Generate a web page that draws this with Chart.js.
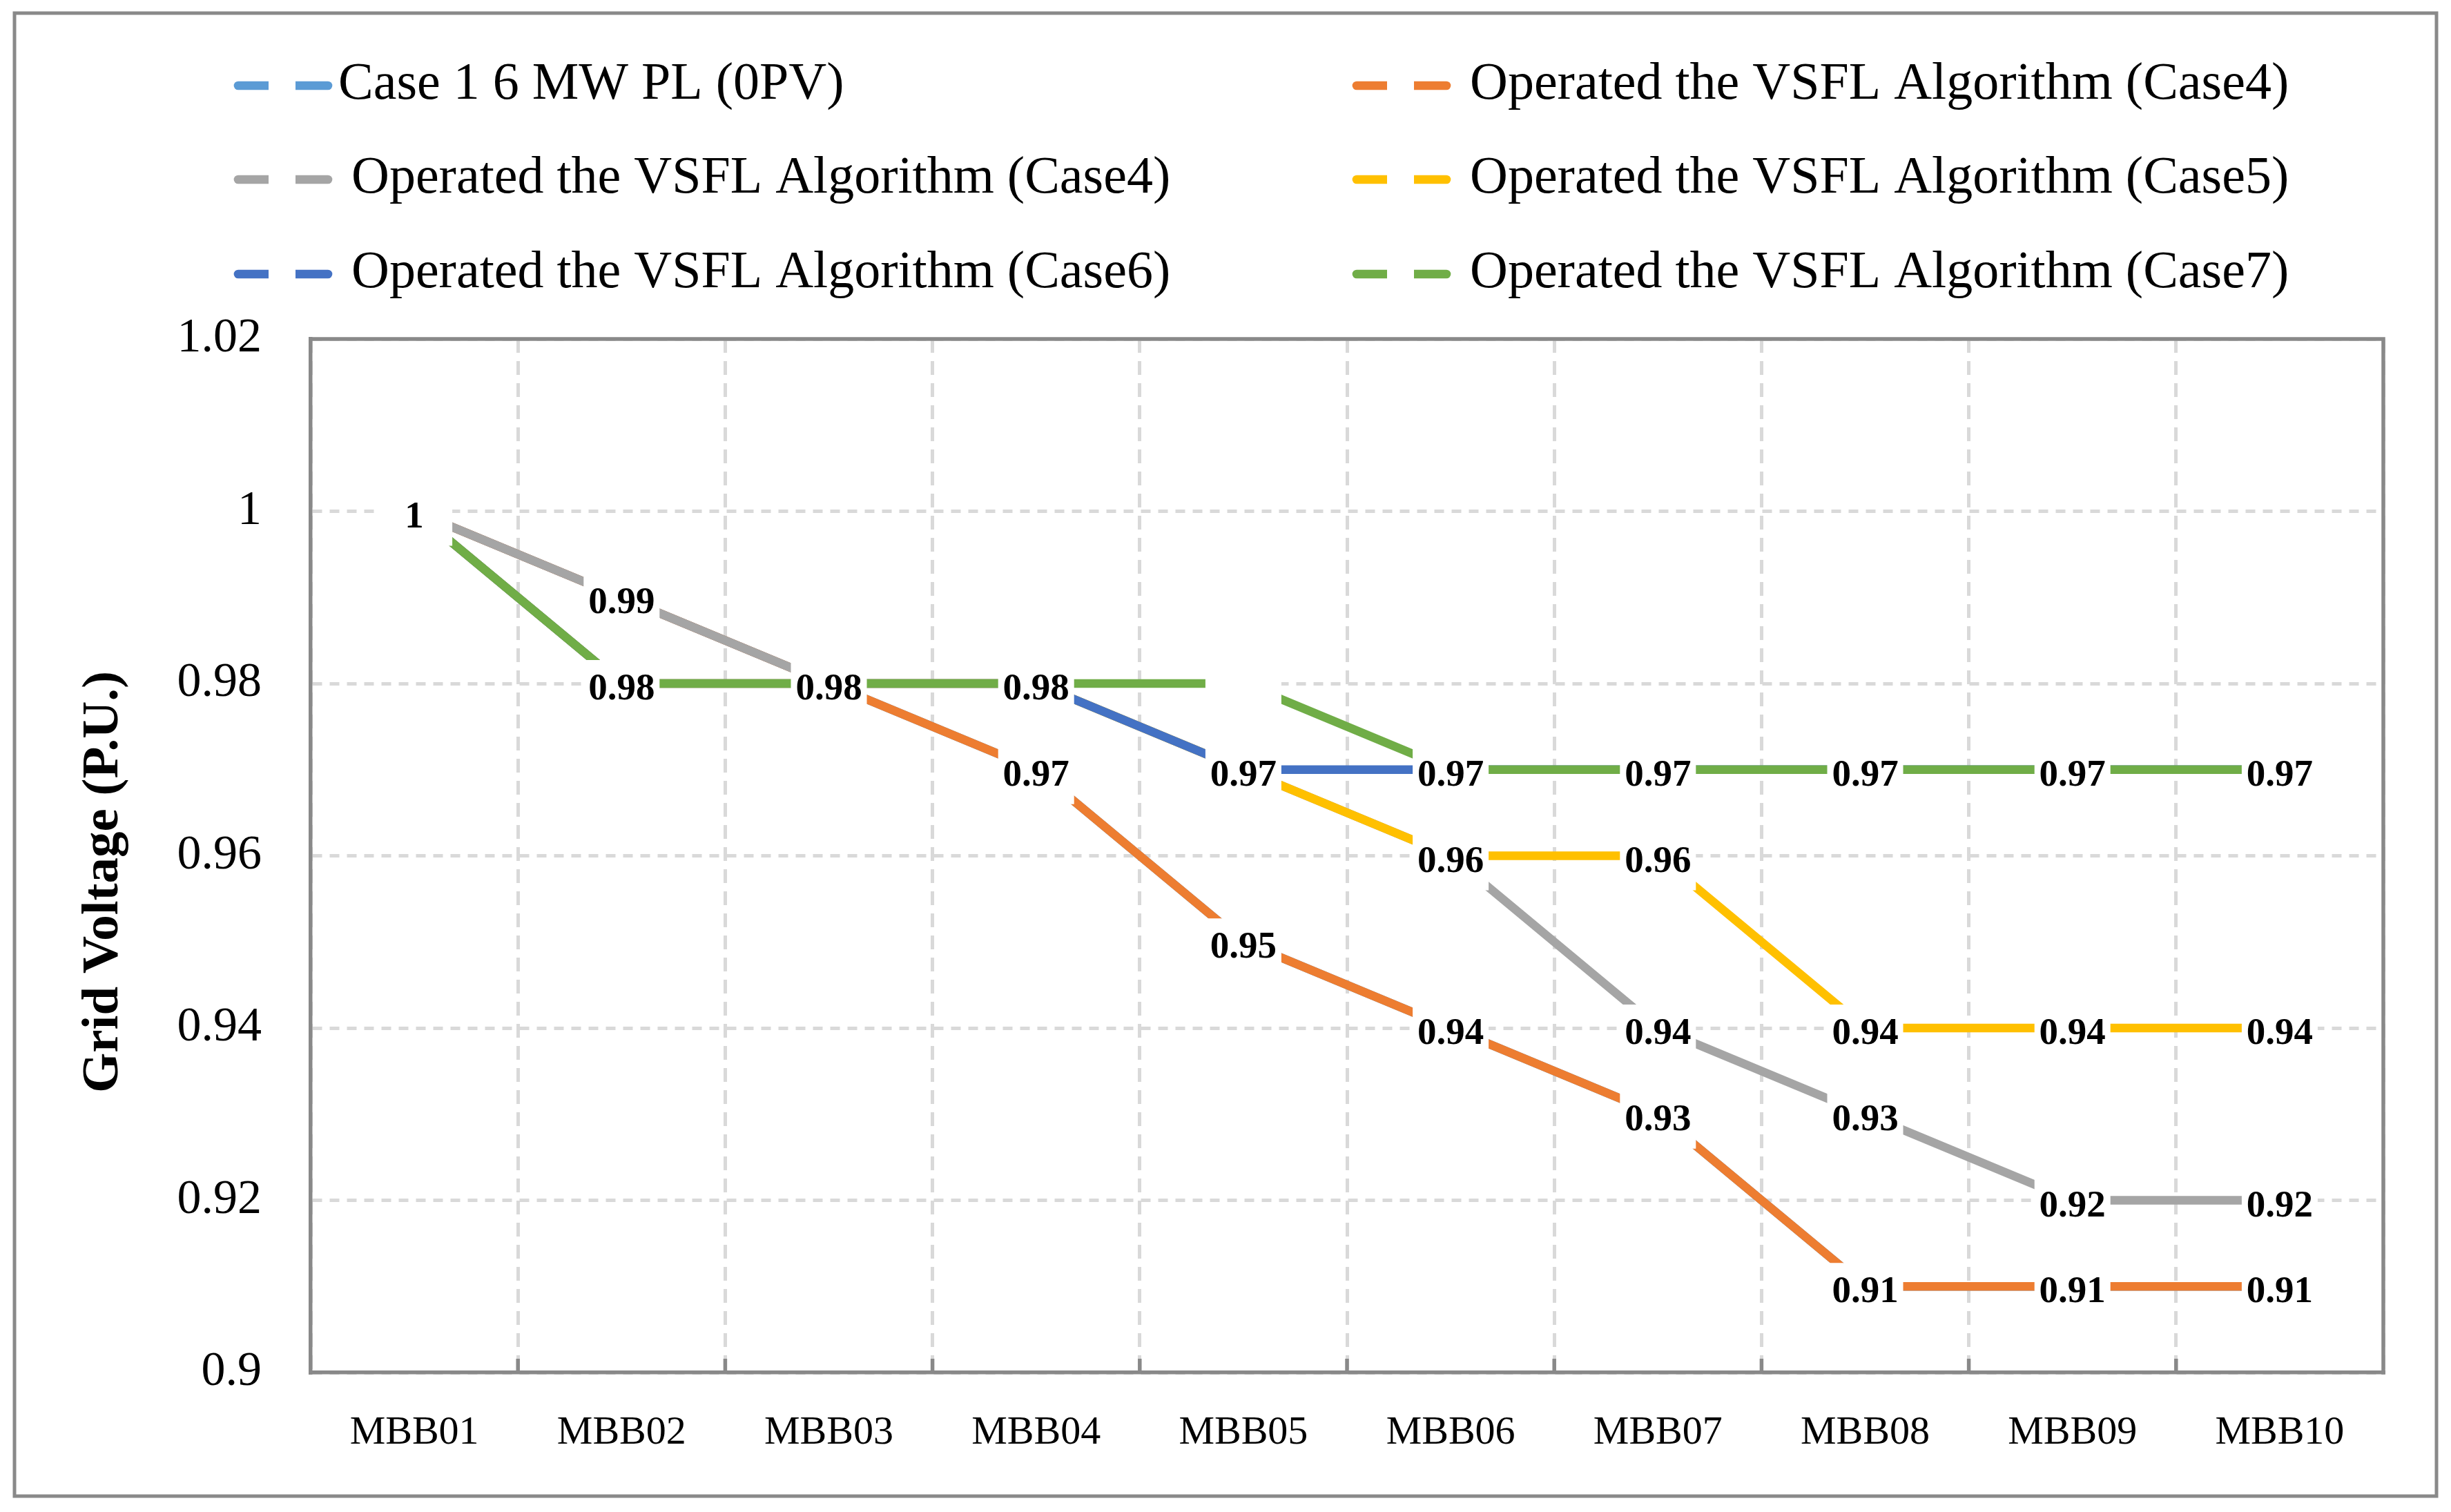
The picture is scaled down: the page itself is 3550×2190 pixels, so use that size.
<!DOCTYPE html>
<html>
<head>
<meta charset="utf-8">
<title>Grid Voltage</title>
<script src="https://cdn.jsdelivr.net/npm/chart.js@4.4.1/dist/chart.umd.min.js"></script>
<style>
  html, body { margin: 0; padding: 0; background: #fff; }
  #wrap { width: 3550px; height: 2190px; }
</style>
</head>
<body>
<div id="wrap"><canvas id="voltageChart" width="3550" height="2190"></canvas></div>
<script>
// data
const busbars = ["MBB01", "MBB02", "MBB03", "MBB04", "MBB05", "MBB06", "MBB07", "MBB08", "MBB09", "MBB10"];
const seriesNames = [
  "Case 1 6 MW PL (0PV)",
  " Operated the VSFL Algorithm (Case4)",
  " Operated the VSFL Algorithm (Case4)",
  " Operated the VSFL Algorithm (Case5)",
  " Operated the VSFL Algorithm (Case6)",
  " Operated the VSFL Algorithm (Case7)"
];
const seriesColors = ["#5B9BD5", "#ED7D31", "#A5A5A5", "#FFC000", "#4472C4", "#70AD47"];

const case1 = [1, 0.99, 0.98, 0.97, 0.95, 0.94, 0.93, 0.91, 0.91, 0.91];
const case4a = [1, 0.99, 0.98, 0.97, 0.95, 0.94, 0.93, 0.91, 0.91, 0.91];
const case4b = [1, 0.99, 0.98, 0.98, 0.97, 0.96, 0.94, 0.93, 0.92, 0.92];
const case5 = [1, 0.98, 0.98, 0.98, 0.97, 0.96, 0.96, 0.94, 0.94, 0.94];
const case6 = [1, 0.98, 0.98, 0.98, 0.97, 0.97, 0.97, 0.97, 0.97, 0.97];
const case7 = [1, 0.98, 0.98, 0.98, 0.98, 0.97, 0.97, 0.97, 0.97, 0.97];
const seriesValues = [case1, case4a, case4b, case5, case6, case7];

const yTicks = [0.9, 0.92, 0.94, 0.96, 0.98, 1, 1.02];
const yTitle = "Grid Voltage (P.U.)";
// label box that shows no number (series index, point index)
const blankLabels = [[5, 4]];

const frameGray = "#898989";
const gridGray = "#D9D9D9";
const serif = "'Liberation Serif', 'Times New Roman', serif";

function fmt(v) {
  return String(+v.toFixed(2));
}

// outer box, plot frame, value labels, legend, axis title
const chartDecor = {
  id: "chartDecor",
  beforeDraw(chart) {
    const ctx = chart.ctx;
    ctx.save();
    ctx.fillStyle = "#fff";
    ctx.fillRect(0, 0, chart.width, chart.height);
    ctx.strokeStyle = frameGray;
    ctx.lineWidth = 5;
    ctx.strokeRect(21, 19, 3508, 2148);
    ctx.restore();
  },
  afterDatasetsDraw(chart) {
    const { ctx, chartArea: a, scales: { x } } = chart;
    ctx.save();
    ctx.strokeStyle = frameGray;
    ctx.lineWidth = 5.5;
    ctx.beginPath();
    ctx.moveTo(a.left - 2.75, a.top);
    ctx.lineTo(a.right, a.top);
    ctx.lineTo(a.right, a.bottom + 2.75);
    ctx.stroke();
    // small inside ticks on the category axis
    for (let i = 1; i < busbars.length; i++) {
      const bx = (x.getPixelForTick(i - 1) + x.getPixelForTick(i)) / 2;
      ctx.beginPath();
      ctx.moveTo(bx, a.bottom);
      ctx.lineTo(bx, a.bottom - 20);
      ctx.stroke();
    }

    // data labels with white boxes, drawn once per spot
    const seen = new Set();
    const items = [];
    chart.data.datasets.forEach((ds, di) => {
      const meta = chart.getDatasetMeta(di);
      meta.data.forEach((pt, i) => {
        const key = i + ":" + ds.data[i];
        if (seen.has(key)) return;
        seen.add(key);
        const blank = blankLabels.some(b => b[0] === di && b[1] === i);
        items.push({ x: pt.x, y: pt.y, txt: blank ? "" : fmt(ds.data[i]) });
      });
    });
    ctx.fillStyle = "#fff";
    items.forEach(it => ctx.fillRect(it.x - 55, it.y - 34, 110, 84));
    ctx.fillStyle = "#000";
    ctx.font = "bold 55px " + serif;
    ctx.textAlign = "center";
    ctx.textBaseline = "middle";
    items.forEach(it => { if (it.txt) ctx.fillText(it.txt, it.x, it.y + 9); });
    ctx.restore();
  },
  afterDraw(chart) {
    const { ctx, chartArea: a } = chart;
    // two-column legend
    const colX = [339, 1959];
    const rowY = [124, 260, 397];
    ctx.save();
    ctx.font = "76px " + serif;
    ctx.textAlign = "left";
    ctx.textBaseline = "alphabetic";
    seriesNames.forEach((name, k) => {
      const x0 = colX[k % 2];
      const y0 = rowY[Math.floor(k / 2)];
      ctx.strokeStyle = seriesColors[k];
      ctx.lineWidth = 12.7;
      ctx.lineCap = "round";
      ctx.beginPath();
      ctx.moveTo(x0 + 6, y0);
      ctx.lineTo(x0 + 136, y0);
      ctx.stroke();
      ctx.fillStyle = "#fff";
      ctx.fillRect(x0 + 50, y0 - 9, 39, 18);
      ctx.fillStyle = "#000";
      ctx.fillText(name, x0 + 151, y0 + 19);
    });

    // y axis title, sits a little below the middle of the plot
    ctx.translate(151, (a.top + a.bottom) / 2 + 38);
    ctx.rotate(-Math.PI / 2);
    ctx.font = "bold 75px " + serif;
    ctx.textAlign = "center";
    ctx.textBaseline = "middle";
    ctx.fillText(yTitle, 0, 0);
    ctx.restore();
  }
};

const datasets = seriesValues.map((vals, i) => ({
  label: seriesNames[i].trim(),
  data: vals,
  borderColor: seriesColors[i],
  backgroundColor: seriesColors[i],
  borderWidth: 12.5,
  borderJoinStyle: "round",
  pointRadius: 0,
  pointHoverRadius: 0,
  tension: 0,
  fill: false,
  order: seriesValues.length - 1 - i
}));

const config = {
  type: "line",
  data: { labels: busbars, datasets: datasets },
  options: {
    responsive: false,
    maintainAspectRatio: false,
    devicePixelRatio: 1,
    animation: false,
    layout: { padding: { top: 491, right: 98, bottom: 0, left: 0 } },
    plugins: {
      legend: { display: false },
      tooltip: { enabled: false }
    },
    scales: {
      x: {
        type: "category",
        offset: true,
        grid: { offset: true, color: gridGray, lineWidth: 5, drawTicks: false },
        border: { display: true, color: frameGray, width: 5.5, dash: [20, 12] },
        ticks: {
          font: { family: serif, size: 58 },
          color: "#000",
          padding: 53,
          maxRotation: 0,
          autoSkip: false
        },
        afterFit(scale) { scale.height = 202; }
      },
      y: {
        min: 0.9,
        max: 1.02,
        grid: { color: gridGray, lineWidth: 5, drawTicks: false },
        border: { display: true, color: frameGray, width: 5.5, dash: [14, 11] },
        afterBuildTicks(scale) { scale.ticks = yTicks.map(v => ({ value: v })); },
        ticks: {
          font: { family: serif, size: 70 },
          color: "#000",
          padding: 71,
          callback: v => fmt(v)
        },
        afterFit(scale) { scale.width = 450; }
      }
    }
  },
  plugins: [chartDecor]
};

const ctx = document.getElementById("voltageChart").getContext("2d");
const voltageChart = new Chart(ctx, config);
</script>
</body>
</html>
